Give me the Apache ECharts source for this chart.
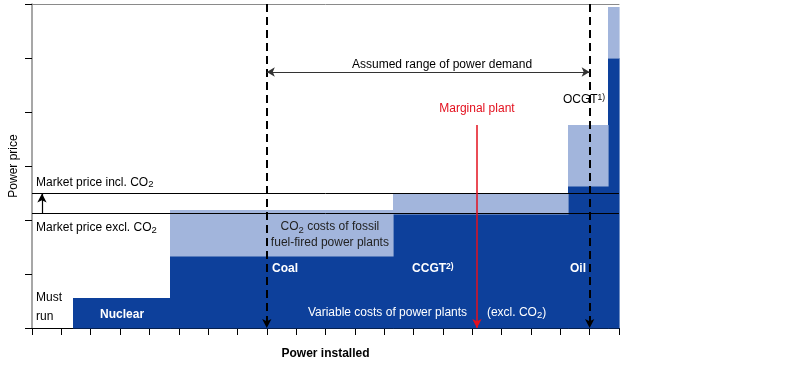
<!DOCTYPE html>
<html>
<head>
<meta charset="utf-8">
<script src="https://cdn.jsdelivr.net/npm/echarts@6/dist/echarts.min.js"></script>
<style>html,body{margin:0;padding:0;background:#fff}#c{width:800px;height:365px}</style>
</head>
<body>
<div id="c"></div>
<script>
// ---- data ----
const plantNames    = ['Must run', 'Nuclear', 'Coal', 'CCGT', 'Oil', 'OCGT'];
const capacityStart = [0,    1.4,  4.7,  12.3, 18.26, 19.62];
const capacityEnd   = [1.4,  4.7,  12.3, 18.26, 19.62, 20];
const variableCost  = [0,    0.55, 1.33, 2.12, 2.63, 5.0];
const totalCost     = [0,    0.55, 2.19, 2.49, 3.76, 5.94];
const priceExclCO2  = 2.12;
const priceInclCO2  = 2.49;
const demandMin     = 8.0;
const demandMax     = 19.0;
const marginalPlant = 15.16;
const xTicks = 20;   // capacity axis 0..20
const yTicks = 6;    // price axis 0..6

const DARK = '#0d409b', LIGHT = '#a2b5dc';
const FONT = 'Liberation Sans, Arial, sans-serif';

// annotation texts (data coordinates)
const annotations = [
  {x: 0.14, y: 2.69, t: 'Market price incl. CO{sub|2}', c: '#000', a: 'left'},
  {x: 0.14, y: 1.85, t: 'Market price excl. CO{sub|2}', c: '#000', a: 'left'},
  {x: 0.14, y: 0.39, t: 'Must\nrun', c: '#000', a: 'left', lh: 19},
  {x: 2.32, y: 0.24, t: 'Nuclear', c: '#fff', a: 'left', w: 'bold'},
  {x: 10.15, y: 1.72, t: 'CO{sub|2} costs of fossil\nfuel-fired power plants', c: '#222', a: 'center', lh: 16},
  {x: 8.18, y: 1.09, t: 'Coal', c: '#fff', a: 'left', w: 'bold'},
  {x: 12.95, y: 1.09, t: 'CCGT{sup|2)}', c: '#fff', a: 'left', w: 'bold'},
  {x: 18.33, y: 1.09, t: 'Oil', c: '#fff', a: 'left', w: 'bold'},
  {x: 9.4, y: 0.28, t: 'Variable costs of power plants', c: '#fff', a: 'left'},
  {x: 15.5, y: 0.28, t: '(excl. CO{sub|2})', c: '#fff', a: 'left'},
  {x: 13.97, y: 4.87, t: 'Assumed range of power demand', c: '#000', a: 'center'},
  {x: 15.16, y: 4.07, t: 'Marginal plant', c: '#e3101e', a: 'center'},
  {x: 18.09, y: 4.22, t: 'OCGT{sup|1)}', c: '#000', a: 'left'}
];

const barData = plantNames.map((n, i) => [capacityStart[i], capacityEnd[i], 0, variableCost[i]]);
const co2Data = plantNames.map((n, i) => [capacityStart[i], capacityEnd[i], variableCost[i], totalCost[i]]);

function rectItem(color) {
  return function (params, api) {
    const p0 = api.coord([api.value(0), api.value(3)]);
    const p1 = api.coord([api.value(1), api.value(2)]);
    const x0 = Math.round(p0[0]), x1 = Math.round(p1[0]);
    const y0 = Math.round(p0[1]), y1 = Math.round(p1[1]);
    if (y1 - y0 <= 0 || x1 - x0 <= 0) return null;
    return {type: 'rect', shape: {x: x0, y: y0, width: x1 - x0 + 0.6, height: y1 - y0 + 0.6},
            style: {fill: color}};
  };
}

const chart = echarts.init(document.getElementById('c'), null, {renderer: 'canvas'});
chart.setOption({
  animation: false,
  grid: {left: 32, right: 181, top: 4, bottom: 37, containLabel: false},
  xAxis: [{
    type: 'value', min: 0, max: xTicks, interval: 1, position: 'bottom',
    axisLine: {show: true, onZero: false, lineStyle: {color: '#000', width: 1}},
    axisTick: {show: true, length: 7, inside: false, lineStyle: {color: '#000'}},
    axisLabel: {show: false}, splitLine: {show: false},
    name: 'Power installed', nameLocation: 'middle', nameGap: 20,
    nameTextStyle: {fontFamily: FONT, fontSize: 12, fontWeight: 'bold', color: '#000'}
  }, {
    type: 'value', min: 0, max: xTicks, position: 'top',
    axisLine: {show: true, onZero: false, lineStyle: {color: '#8a8a8a', width: 1}},
    axisTick: {show: false}, axisLabel: {show: false}, splitLine: {show: false}
  }],
  yAxis: {
    type: 'value', min: 0, max: yTicks, interval: 1,
    axisLine: {show: true, onZero: false, lineStyle: {color: '#8a8a8a', width: 1.5}},
    axisTick: {show: true, length: 7, inside: false, lineStyle: {color: '#000'}},
    axisLabel: {show: false}, splitLine: {show: false},
    name: 'Power price', nameLocation: 'middle', nameGap: 12,
    nameTextStyle: {fontFamily: FONT, fontSize: 12, color: '#000'}
  },
  series: [
    {type: 'custom', name: 'Variable costs', renderItem: rectItem(DARK), data: barData,
     encode: {x: [0, 1], y: [2, 3]}, z: 1},
    {type: 'custom', name: 'CO2 costs', renderItem: rectItem(LIGHT), data: co2Data,
     encode: {x: [0, 1], y: [2, 3]}, z: 1},
    {type: 'line', name: 'annot-lines', data: [], z: 5, silent: true,
     markLine: {
       silent: true, animation: false, label: {show: false},
       data: [
         [{coord: [0, priceInclCO2], symbol: 'none', lineStyle: {color: '#000', width: 1, type: 'solid'}},
          {coord: [xTicks, priceInclCO2], symbol: 'none'}],
         [{coord: [0, priceExclCO2], symbol: 'none', lineStyle: {color: '#000', width: 1, type: 'solid'}},
          {coord: [xTicks, priceExclCO2], symbol: 'none'}],
         [{coord: [demandMin, yTicks], symbol: 'none', lineStyle: {color: '#000', width: 2, type: [8, 5]}},
          {coord: [demandMin, 0], symbol: 'arrow', symbolSize: [7, 9]}],
         [{coord: [demandMax, yTicks], symbol: 'none', lineStyle: {color: '#000', width: 2, type: [8, 5]}},
          {coord: [demandMax, 0], symbol: 'arrow', symbolSize: [7, 9]}],
         [{coord: [demandMin, 4.74], symbol: 'arrow', symbolSize: [7, 8], lineStyle: {color: '#333', width: 1, type: 'solid'}},
          {coord: [demandMax, 4.74], symbol: 'arrow', symbolSize: [7, 8]}],
         [{coord: [marginalPlant, 3.76], symbol: 'none', lineStyle: {color: '#e3101e', width: 1.5, type: 'solid'}},
          {coord: [marginalPlant, 0], symbol: 'arrow', symbolSize: [7, 9]}],
         [{coord: [0.34, priceExclCO2], symbol: 'none', lineStyle: {color: '#000', width: 1.2, type: 'solid'}},
          {coord: [0.34, priceInclCO2], symbol: 'arrow', symbolSize: [7, 9]}]
       ]
     }},
    {type: 'custom', name: 'labels', z: 10, silent: true,
     data: annotations.map((a, i) => [a.x, a.y, i]),
     encode: {x: 0, y: 1},
     renderItem: function (params, api) {
       const a = annotations[api.value(2)];
       const p = api.coord([api.value(0), api.value(1)]);
       const rich = {
         sub: {fontSize: 9.5, fontFamily: FONT, fill: a.c, verticalAlign: 'bottom', padding: [6, 0, 0, 0]},
         sup: {fontSize: 8.5, fontFamily: FONT, fill: a.c, fontWeight: a.w || 'normal', verticalAlign: 'top', padding: [0, 0, 6, 0]}
       };
       return {type: 'text', x: p[0], y: p[1], style: {
         text: a.t, fill: a.c, fontFamily: FONT, fontSize: 12, fontWeight: a.w || 'normal',
         align: a.a, verticalAlign: 'middle', lineHeight: a.lh || 14, rich: rich
       }};
     }}
  ]
});
</script>
</body>
</html>
